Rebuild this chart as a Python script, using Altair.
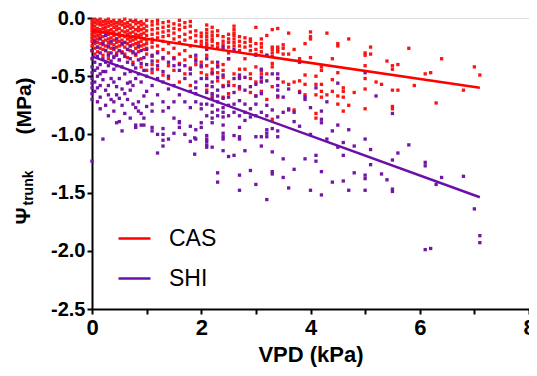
import altair as alt
import pandas as pd

SERIES = ["CAS", "SHI"]
COLORS_PTS = ["#fa1414", "#7316a6"]
COLORS_LINE = ["#ff0000", "#6c0fa8"]
LEGEND_LABELS = ["CAS", "SHI"]
X_LABEL = "VPD (kPa)"
Y_TITLE_PARTS = ["\u03a8", "trunk", "(MPa)"]

# CAS points: (VPD, [psi values in the column])
CAS_COLUMNS = [
    (0.00, [-0.02, -0.05, -0.08, -0.11, -0.14, -0.17, -0.20, -0.24, -0.28]),
    (0.05, [-0.01, -0.04, -0.07, -0.10, -0.13, -0.16, -0.19, -0.22, -0.26, -0.31]),
    (0.10, [-0.02, -0.05, -0.09, -0.12, -0.15, -0.18, -0.21, -0.25, -0.29]),
    (0.15, [-0.01, -0.04, -0.06, -0.10, -0.14, -0.17, -0.22, -0.26]),
    (0.20, [-0.03, -0.06, -0.09, -0.12, -0.16, -0.20, -0.23, -0.27, -0.32]),
    (0.25, [-0.02, -0.05, -0.08, -0.11, -0.15, -0.19, -0.24, -0.28]),
    (0.30, [-0.01, -0.04, -0.07, -0.11, -0.14, -0.18, -0.21, -0.25, -0.30, -0.35]),
    (0.35, [-0.03, -0.06, -0.10, -0.13, -0.17, -0.22, -0.26]),
    (0.40, [-0.02, -0.05, -0.08, -0.12, -0.15, -0.19, -0.23, -0.27, -0.33]),
    (0.45, [-0.04, -0.07, -0.10, -0.14, -0.18, -0.21, -0.25, -0.30]),
    (0.50, [-0.02, -0.05, -0.09, -0.13, -0.16, -0.20, -0.24, -0.28, -0.36]),
    (0.55, [-0.03, -0.06, -0.11, -0.15, -0.19, -0.23, -0.29]),
    (0.60, [-0.01, -0.05, -0.08, -0.12, -0.16, -0.21, -0.25, -0.31]),
    (0.65, [-0.04, -0.07, -0.11, -0.14, -0.18, -0.22, -0.27, -0.34]),
    (0.70, [-0.02, -0.06, -0.09, -0.13, -0.17, -0.20, -0.24, -0.28]),
    (0.75, [-0.03, -0.08, -0.12, -0.16, -0.19, -0.23, -0.30, -0.38]),
    (0.80, [-0.02, -0.05, -0.10, -0.14, -0.18, -0.22, -0.26, -0.32]),
    (0.85, [-0.04, -0.08, -0.11, -0.15, -0.21, -0.25, -0.29]),
    (0.90, [-0.03, -0.06, -0.10, -0.14, -0.17, -0.20, -0.24, -0.35, -0.42]),
    (0.95, [-0.05, -0.09, -0.13, -0.18, -0.23, -0.27]),
    (1.00, [-0.02, -0.07, -0.11, -0.15, -0.19, -0.22, -0.26, -0.31, -0.45]),
    (1.10, [-0.03, -0.06, -0.10, -0.14, -0.18, -0.21, -0.25, -0.33, -0.40, -0.47]),
    (1.20, [-0.02, -0.05, -0.09, -0.13, -0.17, -0.24, -0.29, -0.37, -0.44]),
    (1.30, [-0.04, -0.08, -0.12, -0.16, -0.20, -0.27, -0.35, -0.49]),
    (1.40, [-0.03, -0.07, -0.11, -0.15, -0.22, -0.30, -0.41, -0.52]),
    (1.50, [-0.05, -0.09, -0.13, -0.18, -0.26, -0.34, -0.45]),
    (1.60, [-0.02, -0.06, -0.10, -0.16, -0.21, -0.31, -0.39, -0.55]),
    (1.70, [-0.04, -0.08, -0.14, -0.19, -0.28, -0.36, -0.48]),
    (1.80, [-0.03, -0.07, -0.12, -0.17, -0.24, -0.33, -0.43, -0.58]),
    (1.90, [-0.11, -0.15, -0.20, -0.35, -0.40]),
    (2.00, [-0.13, -0.16, -0.20, -0.23, -0.38, -0.42, -0.47]),
    (2.10, [-0.06, -0.10, -0.13, -0.16, -0.19, -0.22, -0.24, -0.32, -0.41, -0.49, -0.58, -0.62]),
    (2.20, [-0.08, -0.12, -0.15, -0.18, -0.20, -0.24, -0.38, -0.44, -0.48, -0.67]),
    (2.30, [-0.11, -0.15, -0.22, -0.25, -0.41, -0.47, -0.54]),
    (2.40, [-0.16, -0.20, -0.23, -0.27, -0.40, -0.45, -0.51, -0.58, -0.68]),
    (2.50, [-0.14, -0.18, -0.21, -0.25, -0.30, -0.35, -0.55, -0.65]),
    (2.60, [-0.07, -0.10, -0.13, -0.15, -0.18, -0.21, -0.24, -0.48, -0.58]),
    (2.70, [-0.16, -0.20, -0.24, -0.28, -0.44, -0.51, -0.61]),
    (2.80, [-0.17, -0.21, -0.25, -0.35, -0.44]),
    (2.90, [-0.18, -0.20, -0.24, -0.28, -0.48, -0.52, -0.64]),
    (3.00, [-0.08, -0.22, -0.27, -0.31, -0.42, -0.55, -0.67]),
    (3.10, [-0.18, -0.22, -0.25, -0.29, -0.45, -0.48, -0.54, -0.63]),
    (3.20, [-0.15, -0.32, -0.48, -0.70]),
    (3.30, [-0.10, -0.25, -0.27, -0.30, -0.33, -0.39, -0.42, -0.59, -0.87]),
    (3.40, [-0.09, -0.25, -0.27, -0.29, -0.52, -0.68]),
    (3.50, [-0.23, -0.26, -0.31, -0.55]),
    (3.60, [-0.13, -0.31, -0.57, -0.78]),
    (3.70, [-0.27, -0.55, -0.79]),
    (3.80, [-0.35, -0.54, -0.63]),
    (3.90, [-0.22, -0.49, -0.57, -0.66]),
    (4.00, [-0.12, -0.16, -0.18, -0.34]),
    (4.10, [-0.50, -0.57, -0.66, -0.82, -0.86]),
    (4.20, [-0.42, -0.45, -0.57, -0.63, -0.68]),
    (4.30, [-0.13, -0.66]),
    (4.40, [-0.35, -0.53, -0.63]),
    (4.50, [-0.22, -0.24, -0.47, -0.67, -0.74]),
    (4.60, [-0.60, -0.63, -0.68, -0.80]),
    (4.70, [-0.18, -0.75]),
    (4.80, [-0.64]),
    (5.00, [-0.30, -0.32, -0.41, -0.52, -0.61, -0.78]),
    (5.10, [-0.25, -0.31]),
    (5.20, [-0.55]),
    (5.30, [-0.57]),
    (5.40, [-0.37]),
    (5.50, [-0.41, -0.44, -0.62, -0.76, -0.78]),
    (5.60, [-0.40, -0.62]),
    (5.80, [-0.26]),
    (5.90, [-0.58]),
    (6.10, [-0.48]),
    (6.20, [-0.47]),
    (6.30, [-0.73]),
    (6.40, [-0.35]),
    (6.80, [-0.62]),
    (7.00, [-0.42]),
    (7.10, [-0.49]),
]

SHI_COLUMNS = [
    (0.00, [-0.28, -0.35, -0.42, -0.47, -0.52, -0.56, -0.60, -0.65, -0.70, -1.23]),
    (0.05, [-0.20, -0.38, -0.45, -0.55, -0.63]),
    (0.10, [-0.25, -0.33, -0.43, -0.50, -0.60, -0.72]),
    (0.15, [-0.18, -0.30, -0.40, -0.48, -0.58, -0.68, -0.78]),
    (0.20, [-0.22, -0.35, -0.46, -0.53, -1.04]),
    (0.25, [-0.15, -0.28, -0.38, -0.46, -0.62, -0.75]),
    (0.30, [-0.24, -0.32, -0.41, -0.58, -0.66, -0.84]),
    (0.35, [-0.20, -0.30, -0.37, -0.52, -0.70]),
    (0.40, [-0.26, -0.34, -0.44, -0.55, -0.72, -0.80]),
    (0.45, [-0.18, -0.32, -0.41, -0.59, -0.66, -0.90]),
    (0.50, [-0.28, -0.36, -0.52, -0.69, -0.89]),
    (0.55, [-0.22, -0.30, -0.42, -0.61, -0.75, -0.97]),
    (0.60, [-0.21, -0.33, -0.48, -0.65, -0.82]),
    (0.65, [-0.27, -0.38, -0.56, -0.70]),
    (0.70, [-0.24, -0.35, -0.46, -0.55, -0.62, -0.86]),
    (0.75, [-0.29, -0.40, -0.58, -0.74]),
    (0.80, [-0.31, -0.43, -0.52, -0.77, -0.92, -0.94]),
    (0.85, [-0.24, -0.36, -0.48, -0.72, -0.80]),
    (0.90, [-0.28, -0.39, -0.55, -0.82, -0.92]),
    (0.95, [-0.34, -0.45, -0.67, -0.86, -0.92]),
    (1.00, [-0.27, -0.40, -0.50, -0.63, -0.76]),
    (1.10, [-0.32, -0.37, -0.44, -0.58, -0.74, -0.80, -0.94, -0.97]),
    (1.20, [-0.30, -0.41, -0.52, -0.66, -1.00, -1.16]),
    (1.30, [-0.34, -0.46, -0.55, -0.72, -0.80, -0.95, -1.00, -1.05, -1.10]),
    (1.40, [-0.38, -0.50, -0.61, -0.77, -1.04]),
    (1.50, [-0.35, -0.41, -0.58, -0.72, -0.86, -0.99]),
    (1.60, [-0.40, -0.45, -0.66, -0.89, -0.90, -0.94]),
    (1.70, [-0.41, -0.52, -0.72, -1.00]),
    (1.80, [-0.44, -0.48, -0.63, -0.77, -0.93, -1.06]),
    (1.88, [-1.03, -1.17]),
    (1.90, [-0.32, -0.37, -0.55, -0.60, -0.65, -0.72, -0.96, -1.04]),
    (2.00, [-0.41, -0.52, -0.74, -0.78, -0.90, -0.94]),
    (2.10, [-0.27, -0.35, -0.52, -0.58, -0.64, -0.74, -0.84, -1.01, -1.04, -1.06, -1.09, -1.11]),
    (2.20, [-0.47, -0.55, -0.59, -0.65, -0.69, -0.75, -0.81, -0.86, -0.90, -1.11]),
    (2.30, [-0.38, -0.42, -0.51, -0.62, -0.67, -0.72, -0.79, -0.84, -1.33, -1.41]),
    (2.40, [-0.25, -0.49, -0.59, -0.69, -0.77, -0.81, -0.85, -0.92, -0.99, -1.02, -1.04, -1.14]),
    (2.50, [-0.35, -0.58, -0.68, -0.75, -0.84, -1.19]),
    (2.60, [-0.27, -0.52, -0.64, -0.74, -0.81, -1.01, -1.18]),
    (2.70, [-0.49, -0.52, -0.59, -0.71, -0.84, -0.94, -1.02, -1.04, -1.35, -1.48]),
    (2.80, [-0.51, -0.62, -0.74, -0.81, -0.88, -1.14]),
    (2.90, [-0.59, -0.78, -0.85, -1.31]),
    (3.00, [-0.32, -0.57, -0.67, -0.74, -0.84, -1.02, -1.43]),
    (3.10, [-0.44, -0.51, -0.55, -0.65, -0.81, -1.02, -1.10]),
    (3.20, [-0.32, -0.54, -0.75, -0.84, -0.96, -0.99, -1.02, -1.56]),
    (3.30, [-0.48, -0.79, -0.95, -1.15, -1.32, -1.34]),
    (3.40, [-0.48, -0.52, -0.58, -0.62, -0.67, -0.85, -0.97, -1.02]),
    (3.50, [-0.68, -0.81, -1.21, -1.37]),
    (3.60, [-0.61, -0.79, -1.46]),
    (3.70, [-0.81, -0.89, -1.30]),
    (3.80, [-0.38, -0.64, -0.93]),
    (3.90, [-0.68, -0.70, -1.21]),
    (4.00, [-0.77, -1.00, -1.48]),
    (4.10, [-0.60, -1.18, -1.23]),
    (4.20, [-0.80, -0.87, -0.90, -1.32, -1.52]),
    (4.30, [-0.72, -1.04]),
    (4.40, [-0.97, -1.41]),
    (4.50, [-0.56, -0.92, -1.11]),
    (4.60, [-1.07, -1.18, -1.40]),
    (4.70, [-0.96, -1.48]),
    (4.80, [-1.10, -1.33]),
    (5.00, [-0.47, -1.04, -1.35, -1.38, -1.48]),
    (5.10, [-1.13, -1.26]),
    (5.20, [-0.67]),
    (5.30, [-1.34]),
    (5.40, [-1.39]),
    (5.50, [-0.82, -1.22, -1.47, -1.49]),
    (5.60, [-1.16]),
    (5.80, [-1.09]),
    (6.10, [-1.24, -1.27, -1.99]),
    (6.20, [-1.98]),
    (6.30, [-1.43]),
    (6.40, [-1.37]),
    (6.80, [-1.36]),
    (7.00, [-1.64]),
    (7.10, [-1.87, -1.93]),
]

# Fitted regression lines (end points)
FIT_VPD = [0.0, 7.1]
CAS_FIT = [-0.11, -0.60]
SHI_FIT = [-0.33, -1.54]


def flatten(cols, name):
    rows = []
    for v, ps in cols:
        for p in ps:
            rows.append({"vpd": v, "psi": p, "site": name})
    return pd.DataFrame(rows)


cas_df = flatten(CAS_COLUMNS, "CAS")
shi_df = flatten(SHI_COLUMNS, "SHI")
fit_df = pd.DataFrame(
    [{"vpd": v, "psi": p, "site": "CAS"} for v, p in zip(FIT_VPD, CAS_FIT)]
    + [{"vpd": v, "psi": p, "site": "SHI"} for v, p in zip(FIT_VPD, SHI_FIT)]
)

FONT = "Liberation Sans"

x_enc = alt.X(
    "vpd:Q",
    scale=alt.Scale(domain=[0, 8], nice=False),
    axis=alt.Axis(
        title=X_LABEL,
        values=[0, 1, 2, 3, 4, 5, 6, 7, 8],
        labelExpr="datum.value % 2 == 0 ? datum.label : ''",
        grid=False,
        domainColor="black",
        domainWidth=2,
        tickColor="black",
        tickWidth=2,
        tickSize=5,
        labelPadding=3,
        labelFont=FONT,
        labelFontSize=22,
        labelFontWeight="bold",
        labelColor="black",
        titleFont=FONT,
        titleFontSize=22,
        titleFontWeight="bold",
        titleColor="black",
        titlePadding=6,
        labelFlush=False,
    ),
)
y_enc = alt.Y(
    "psi:Q",
    scale=alt.Scale(domain=[-2.5, 0], nice=False),
    axis=alt.Axis(
        title=None,
        values=[0, -0.5, -1.0, -1.5, -2.0, -2.5],
        labelExpr="(datum.value < 0 ? '-' : '') + format(abs(datum.value), '.1f')",
        grid=False,
        domainColor="black",
        domainWidth=2,
        tickColor="black",
        tickWidth=2,
        tickSize=5,
        labelPadding=2,
        labelFont=FONT,
        labelFontSize=20,
        labelFontWeight="bold",
        labelColor="black",
        labelFlush=False,
    ),
)

cas_pts = alt.Chart(cas_df).mark_square(size=11, opacity=1, color=COLORS_PTS[0]).encode(x=x_enc, y=y_enc)
shi_pts = alt.Chart(shi_df).mark_square(size=11, opacity=1, color=COLORS_PTS[1]).encode(x="vpd:Q", y="psi:Q")

lines = alt.Chart(fit_df).mark_line(strokeWidth=2.5).encode(
    x="vpd:Q",
    y="psi:Q",
    color=alt.Color(
        "site:N",
        scale=alt.Scale(domain=SERIES, range=COLORS_LINE),
        legend=alt.Legend(
            title=None,
            orient="none",
            legendX=25,
            legendY=203,
            symbolType="stroke",
            symbolSize=1024,
            symbolStrokeWidth=2.5,
            labelFont=FONT,
            labelFontSize=23,
            labelColor="black",
            labelOffset=17,
            rowPadding=10,
            values=LEGEND_LABELS,
        ),
    ),
)

psi_txt = alt.Chart(pd.DataFrame({"t": [Y_TITLE_PARTS[0]]})).mark_text(
    angle=270, font=FONT, fontSize=21, fontWeight="bold", color="black", align="center", baseline="middle"
).encode(x=alt.value(-68), y=alt.value(198), text="t:N")
sub_txt = alt.Chart(pd.DataFrame({"t": [Y_TITLE_PARTS[1]]})).mark_text(
    angle=270, font=FONT, fontSize=14, fontWeight="bold", color="black", align="center", baseline="middle"
).encode(x=alt.value(-63), y=alt.value(170), text="t:N")
mpa_txt = alt.Chart(pd.DataFrame({"t": [Y_TITLE_PARTS[2]]})).mark_text(
    angle=270, font=FONT, fontSize=21, fontWeight="bold", color="black", align="center", baseline="middle"
).encode(x=alt.value(-67), y=alt.value(88), text="t:N")

chart = (
    alt.layer(cas_pts, shi_pts, lines, psi_txt, sub_txt, mpa_txt)
    .properties(
        width=437,
        height=291,
        autosize=alt.AutoSizeParams(type="none"),
        padding={"left": 84, "top": 10, "right": 0, "bottom": 59},
    )
    .configure_view(stroke="black", strokeWidth=2)
    .configure(background="white")
)

chart.save("out.html", embed_options={"renderer": "svg", "actions": False})
